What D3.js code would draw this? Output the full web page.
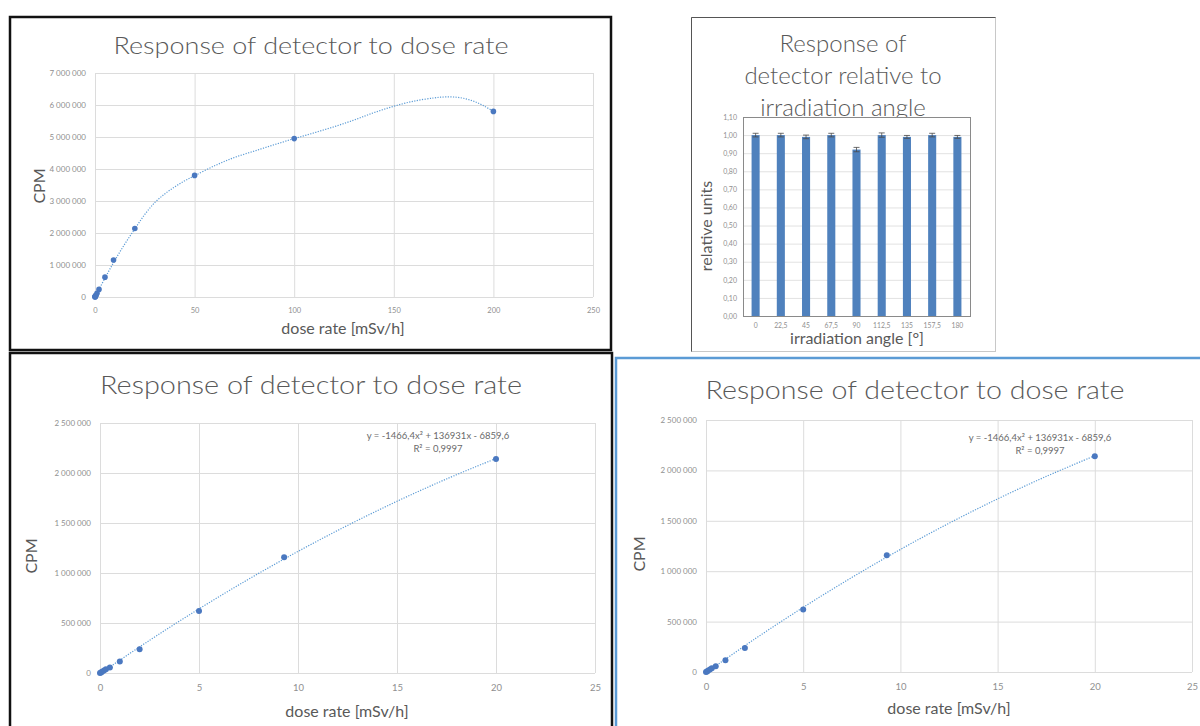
<!DOCTYPE html>
<html>
<head>
<meta charset="utf-8">
<script src="https://cdn.jsdelivr.net/npm/d3@7"></script>
<style>
  body { margin: 0; background: #fff; }
  text { font-family: Lato, "Open Sans", sans-serif; }
</style>
</head>
<body>
<svg id="chart" width="1200" height="726"></svg>
<script>
// measured points: dose rate [mSv/h] and counts per minute
var doseLow = [0, 0.05, 0.1, 0.2, 0.3, 0.5, 1, 2, 5, 9.3, 20];
var cpmLow = [0, 6000, 13000, 26000, 38000, 56000, 116000, 238000, 621000, 1158000, 2140000];
var doseHigh = [50, 100, 200];
var cpmHigh = [3800000, 4950000, 5800000];

// trendline of the full range
var trendFullX = [0, 5, 10, 15, 20, 25, 30, 35, 40, 45, 50, 60, 70, 80, 90, 100, 110, 120, 130, 140, 150, 160, 170, 175, 180, 185, 190, 195, 200];
var trendFullY = [0, 590000, 1150000, 1660000, 2130000, 2580000, 2950000, 3220000, 3440000, 3630000, 3790000, 4100000, 4360000, 4560000, 4760000, 4950000, 5130000, 5320000, 5530000, 5760000, 5960000, 6120000, 6220000, 6250000, 6250000, 6210000, 6120000, 5980000, 5800000];

// quadratic trendline of the low range (y = -1466,4x² + 136931x - 6859,6)
var trendLowX = [0, 2.5, 5, 7.5, 10, 12.5, 15, 17.5, 20];
var trendLowY = [-6860, 326300, 641100, 937600, 1215800, 1475700, 1717200, 1940300, 2145200];
var trendText = ["y = -1466,4x² + 136931x - 6859,6", "R² = 0,9997"];

// angular response
var angleLabels = ["0", "22,5", "45", "67,5", "90", "112,5", "135", "157,5", "180"];
var relResponse = [1.00, 1.00, 0.99, 1.00, 0.92, 1.00, 0.99, 1.00, 0.99];
var relError = [0.01, 0.01, 0.01, 0.01, 0.012, 0.012, 0.008, 0.01, 0.008];

var titleDose = "Response of detector to dose rate";
var titleAngle = ["Response of", "detector relative to", "irradiation angle"];

var locale = d3.formatLocale({decimal: ",", thousands: " ", grouping: [3], currency: ["", ""]});
var fmtBig = locale.format(",d");
var fmtRel = locale.format(".2f");

var svg = d3.select("#chart");
var blue = "#4a78c0";
var grid = "#dcdcdc";
var tickCol = "#8f8f8f";
var labelCol = "#595959";

// panel frames
svg.append("rect").attr("x", 10).attr("y", 17).attr("width", 601).attr("height", 333)
  .attr("fill", "none").attr("stroke", "#111").attr("stroke-width", 2.5);
svg.append("rect").attr("x", 10).attr("y", 353).attr("width", 602).attr("height", 390)
  .attr("fill", "none").attr("stroke", "#111").attr("stroke-width", 2.5);
svg.append("rect").attr("x", 616).attr("y", 358).attr("width", 600).attr("height", 400)
  .attr("fill", "none").attr("stroke", "#5b9bd5").attr("stroke-width", 2.5);
svg.append("rect").attr("x", 691.5).attr("y", 17.5).attr("width", 304).attr("height", 334)
  .attr("fill", "none").attr("stroke", "#c8c8c8").attr("stroke-width", 1);
svg.append("path").attr("d", "M691.5,351.5V17.5H995.5")
  .attr("fill", "none").attr("stroke", "#555").attr("stroke-width", 1);

function scatterPanel(o) {
  var g = svg.append("g");
  var x = d3.scaleLinear().domain(o.xDomain).range([o.left, o.right]);
  var y = d3.scaleLinear().domain(o.yDomain).range([o.bottom, o.top]);

  // gridlines
  g.append("g").attr("transform", `translate(0,${o.bottom})`)
    .call(d3.axisBottom(x).tickValues(o.xTicks).tickSize(-(o.bottom - o.top)).tickFormat(""))
    .call(a => a.select(".domain").remove())
    .call(a => a.selectAll("line").attr("stroke", grid));
  g.append("g").attr("transform", `translate(${o.left},0)`)
    .call(d3.axisLeft(y).tickValues(o.yTicks).tickSize(-(o.right - o.left)).tickFormat(""))
    .call(a => a.select(".domain").remove())
    .call(a => a.selectAll("line").attr("stroke", grid));

  // tick labels
  var xa = g.append("g").attr("transform", `translate(0,${o.bottom})`)
    .call(d3.axisBottom(x).tickValues(o.xTicks).tickSize(0).tickPadding(o.xPad).tickFormat(d3.format("d")));
  xa.select(".domain").remove();
  xa.selectAll("text").attr("fill", tickCol).style("font-size", o.xTickSize + "px");
  var ya = g.append("g").attr("transform", `translate(${o.left},0)`)
    .call(d3.axisLeft(y).tickValues(o.yTicks).tickSize(0).tickPadding(o.yPad).tickFormat(fmtBig));
  ya.select(".domain").remove();
  ya.selectAll("text").attr("fill", tickCol).style("font-size", o.yTickSize + "px");

  // dotted trendline
  var line = d3.line().x((d, i) => x(o.trendX[i])).y((d, i) => y(o.trendY[i])).curve(d3.curveCatmullRom);
  g.append("path").datum(o.trendX).attr("d", line)
    .attr("fill", "none").attr("stroke", "#5b9bd5").attr("stroke-width", 1.2)
    .attr("stroke-dasharray", "1.2,1.4");

  // points
  g.selectAll("circle.pt").data(o.px).enter().append("circle")
    .attr("class", "pt")
    .attr("cx", (d, i) => x(o.px[i]))
    .attr("cy", (d, i) => y(o.py[i]))
    .attr("r", o.r).attr("fill", blue);

  // titles
  g.append("text").attr("x", o.titleX).attr("y", o.titleY).attr("text-anchor", "middle")
    .attr("fill", labelCol).style("font-size", o.titleSize + "px").style("font-weight", 300)
    .attr("textLength", o.titleLen).attr("lengthAdjust", "spacingAndGlyphs")
    .text(titleDose);
  g.append("text").attr("transform", `translate(${o.cpmX},${o.cpmY}) rotate(-90)`)
    .attr("text-anchor", "middle").attr("fill", labelCol).style("font-size", "16px").text("CPM");
  g.append("text").attr("x", o.xlabX).attr("y", o.xlabY).attr("text-anchor", "middle")
    .attr("fill", labelCol).style("font-size", "16px").text("dose rate [mSv/h]");

  if (o.eqX) {
    trendText.forEach(function(t, i) {
      g.append("text").attr("x", o.eqX).attr("y", o.eqY + i * 13).attr("text-anchor", "middle")
        .attr("fill", "#6a6a6a").style("font-size", "9.5px").text(t);
    });
  }
}

// top left: full range
scatterPanel({
  left: 95, right: 593, top: 73, bottom: 297,
  xDomain: [0, 250], yDomain: [0, 7000000],
  xTicks: d3.range(0, 251, 50), yTicks: d3.range(0, 7000001, 1000000),
  xPad: 11, yPad: 9, xTickSize: 7.5, yTickSize: 8,
  px: doseLow.concat(doseHigh), py: cpmLow.concat(cpmHigh),
  trendX: trendFullX, trendY: trendFullY, r: 2.8,
  titleX: 311, titleY: 54, titleSize: 24, titleLen: 395,
  cpmX: 45, cpmY: 186, xlabX: 343, xlabY: 334
});

// bottom left: low range
scatterPanel({
  left: 100, right: 595, top: 423, bottom: 673,
  xDomain: [0, 25], yDomain: [0, 2500000],
  xTicks: d3.range(0, 26, 5), yTicks: d3.range(0, 2500001, 500000),
  xPad: 11, yPad: 9, xTickSize: 9.5, yTickSize: 8,
  px: doseLow, py: cpmLow,
  trendX: trendLowX, trendY: trendLowY, r: 3,
  titleX: 311, titleY: 394, titleSize: 26, titleLen: 422,
  cpmX: 37, cpmY: 556, xlabX: 347, xlabY: 717,
  eqX: 438, eqY: 439
});

// bottom right: same data, second copy
scatterPanel({
  left: 706, right: 1192, top: 420, bottom: 672,
  xDomain: [0, 25], yDomain: [0, 2500000],
  xTicks: d3.range(0, 26, 5), yTicks: d3.range(0, 2500001, 500000),
  xPad: 11, yPad: 9, xTickSize: 9.5, yTickSize: 8,
  px: doseLow, py: cpmLow,
  trendX: trendLowX, trendY: trendLowY, r: 3,
  titleX: 915, titleY: 399, titleSize: 26, titleLen: 419,
  cpmX: 645, cpmY: 554, xlabX: 949, xlabY: 714,
  eqX: 1040, eqY: 441
});

// top right: angular response bar chart
(function() {
  var left = 743, right = 970, top = 117, bottom = 316;
  var g = svg.append("g");

  titleAngle.forEach(function(t, i) {
    g.append("text").attr("x", 843).attr("y", 52 + i * 32).attr("text-anchor", "middle")
      .attr("fill", labelCol).style("font-size", "24px").style("font-weight", 300).text(t);
  });

  var x = d3.scaleBand().domain(angleLabels).range([left, right]).paddingInner(0.68).paddingOuter(0.34);
  var y = d3.scaleLinear().domain([0, 1.1]).range([bottom, top]);

  g.append("rect").attr("x", left).attr("y", top).attr("width", right - left).attr("height", bottom - top)
    .attr("fill", "#fff");
  g.append("g").attr("transform", `translate(${left},0)`)
    .call(d3.axisLeft(y).tickValues(d3.range(0, 1.101, 0.1)).tickSize(-(right - left)).tickFormat(""))
    .call(a => a.select(".domain").remove())
    .call(a => a.selectAll("line").attr("stroke", "#e2e2e2"));
  g.append("rect").attr("x", left + 0.5).attr("y", top + 0.5).attr("width", right - left).attr("height", bottom - top)
    .attr("fill", "none").attr("stroke", "#8a8a8a").attr("stroke-width", 1);

  var ya = g.append("g").attr("transform", `translate(${left},0)`)
    .call(d3.axisLeft(y).tickValues(d3.range(0, 1.101, 0.1)).tickSize(0).tickPadding(6).tickFormat(fmtRel));
  ya.select(".domain").remove();
  ya.selectAll("text").attr("fill", tickCol).style("font-size", "7px");

  var xa = g.append("g").attr("transform", `translate(0,${bottom})`)
    .call(d3.axisBottom(x).tickSize(0).tickPadding(7));
  xa.select(".domain").remove();
  xa.selectAll("text").attr("fill", tickCol).style("font-size", "6.8px");

  g.selectAll("rect.bar").data(angleLabels).enter().append("rect")
    .attr("class", "bar")
    .attr("x", d => x(d))
    .attr("width", x.bandwidth())
    .attr("y", (d, i) => y(relResponse[i]))
    .attr("height", (d, i) => bottom - y(relResponse[i]))
    .attr("fill", "#4f81bd");

  // error bars
  angleLabels.forEach(function(d, i) {
    var cx = x(d) + x.bandwidth() / 2;
    var hi = y(relResponse[i] + relError[i]), lo = y(relResponse[i] - relError[i]);
    g.append("path")
      .attr("d", `M${cx},${hi}V${lo}M${cx - 3},${hi}H${cx + 3}M${cx - 3},${lo}H${cx + 3}`)
      .attr("stroke", "#4a4a4a").attr("stroke-width", 0.8).attr("fill", "none");
  });

  g.append("text").attr("transform", "translate(712,226) rotate(-90)").attr("text-anchor", "middle")
    .attr("fill", labelCol).style("font-size", "16px").text("relative units");
  g.append("text").attr("x", 857).attr("y", 344).attr("text-anchor", "middle")
    .attr("fill", labelCol).style("font-size", "16px").text("irradiation angle [°]");
})();
</script>
</body>
</html>
